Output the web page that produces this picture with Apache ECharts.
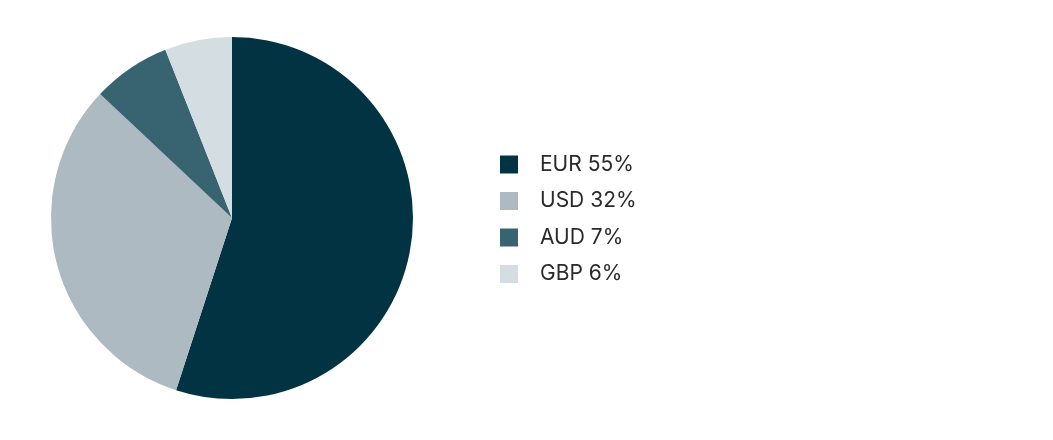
<!DOCTYPE html>
<html><head><meta charset="utf-8">
<script src="https://cdn.jsdelivr.net/npm/echarts@6/dist/echarts.min.js"></script>
<style>html,body{margin:0;padding:0;background:#fff}#c{width:1053px;height:440px}</style>
</head><body><div id="c"></div>
<script>
const categories = ['EUR', 'USD', 'AUD', 'GBP'];
const values = [55, 32, 7, 6];
const colors = ['#023343', '#adbac1', '#386472', '#d3dde2'];

const chart = echarts.init(document.getElementById('c'), null, {renderer: 'canvas'});
chart.setOption({
  animation: false,
  color: colors,
  legend: {
    orient: 'vertical',
    left: 495,
    top: 149,
    itemWidth: 18,
    itemHeight: 18,
    itemGap: 15.5,
    icon: 'rect',
    data: categories,
    formatter: function (name) {
      return name + ' ' + values[categories.indexOf(name)] + '%';
    },
    textStyle: {
      fontFamily: 'Inter',
      fontSize: 21,
      lineHeight: 18,
      color: '#2a2a2a',
      padding: [0, 0, 0, 17]
    }
  },
  series: [{
    type: 'pie',
    center: [232, 218],
    radius: [0, 181],
    startAngle: 90,
    clockwise: true,
    label: {show: false},
    labelLine: {show: false},
    emphasis: {disabled: true},
    data: categories.map((c, i) => ({name: c, value: values[i]}))
  }]
});
</script></body></html>
